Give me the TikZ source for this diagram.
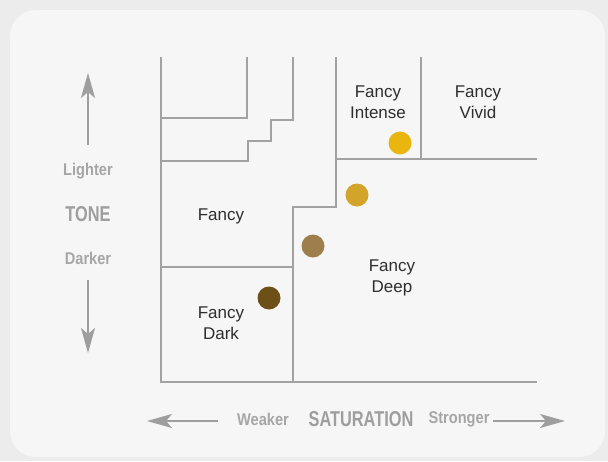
\documentclass[tikz,border=0pt]{standalone}
\usepackage{fontspec}
\setmainfont{Liberation Sans}
\newfontfamily\narrowfont[FakeStretch=0.86]{Liberation Sans}
\newfontfamily\condfont[FakeStretch=0.76]{Liberation Sans}
\usetikzlibrary{arrows.meta}
\definecolor{pagegrey}{HTML}{ECECEC}
\definecolor{panelgrey}{HTML}{F6F6F6}
\definecolor{gridgrey}{HTML}{A2A2A2}
\definecolor{axisgrey}{HTML}{9E9E9E}
\definecolor{labelgrey}{HTML}{A6A6A6}
\definecolor{textdark}{HTML}{2E2E2E}
\definecolor{dotyellow}{HTML}{E9B50F}
\definecolor{dotgold}{HTML}{D3A42A}
\definecolor{dottan}{HTML}{9E7F4C}
\definecolor{dotbrown}{HTML}{6D5018}
\tikzset{
  grid/.style={draw=gridgrey,line width=1.8pt,line cap=rect},
  axis/.style={draw=axisgrey,line width=2.4pt,-{Stealth[length=25pt,width=14pt,inset=6pt]}},
  region/.style={text=textdark,align=center,inner sep=0pt,font=\fontsize{17}{20.5}\selectfont},
  hint/.style={text=labelgrey,inner sep=0pt,font=\narrowfont\bfseries\fontsize{17}{20}\selectfont},
  title/.style={text=axisgrey,inner sep=0pt,font=\condfont\bfseries\fontsize{21.5}{24}\selectfont},
  shade/.style={circle,minimum size=23pt,inner sep=0pt}
}
\begin{document}
\begin{tikzpicture}[x=1pt,y=-1pt]
\fill[pagegrey] (0,0) rectangle (608,461);
\useasboundingbox (0,0) rectangle (608,461);
\fill[panelgrey,rounded corners=26pt] (10,10) rectangle (605,457);
% grid of grades
\draw[grid] (161,58) -- (161,382) -- (536,382);
\draw[grid] (247,58) -- (247,118) -- (161,118);
\draw[grid] (293,58) -- (293,120) -- (271,120) -- (271,141) -- (248,141) -- (248,161) -- (161,161);
\draw[grid] (336,58) -- (336,207) -- (293,207) -- (293,382);
\draw[grid] (161,267) -- (293,267);
\draw[grid] (421,58) -- (421,159);
\draw[grid] (336,159) -- (536,159);
% grade names
\node[region] (intense) at (378,102) {Fancy\\Intense};
\node[region] (vivid) at (478,102) {Fancy\\Vivid};
\node[region] (fancy) at (221,216) {Fancy};
\node[region] (deep) at (392,278) {Fancy\\Deep};
\node[region] (dark) at (221,323) {Fancy\\Dark};
% colour samples
\node[shade,fill=dotyellow] (s1) at (400,143) {};
\node[shade,fill=dotgold] (s2) at (357,195) {};
\node[shade,fill=dottan] (s3) at (313,246) {};
\node[shade,fill=dotbrown] (s4) at (269,298) {};
% tone axis
\node[hint] (lighter) at (88,171) {Lighter};
\node[title] (tone) at (88,214) {TONE};
\node[hint] (darker) at (88,258) {Darker};
\coordinate (uptip) at (88,73);
\coordinate (downtip) at (88,353);
\draw[axis] (88,145) -- (uptip);
\draw[axis] (88,280) -- (downtip);
% saturation axis
\node[hint] (weaker) at (263,419) {Weaker};
\node[title] (sat) at (361,419) {SATURATION};
\node[hint] (stronger) at (459,419) {Stronger};
\coordinate (lefttip) at (147,421);
\coordinate (righttip) at (565,421);
\coordinate (leftstart) at (218,421);
\coordinate (rightstart) at (493,421);
\draw[axis] (leftstart) -- (lefttip);
\draw[axis] (rightstart) -- (righttip);
\end{tikzpicture}
\end{document}
